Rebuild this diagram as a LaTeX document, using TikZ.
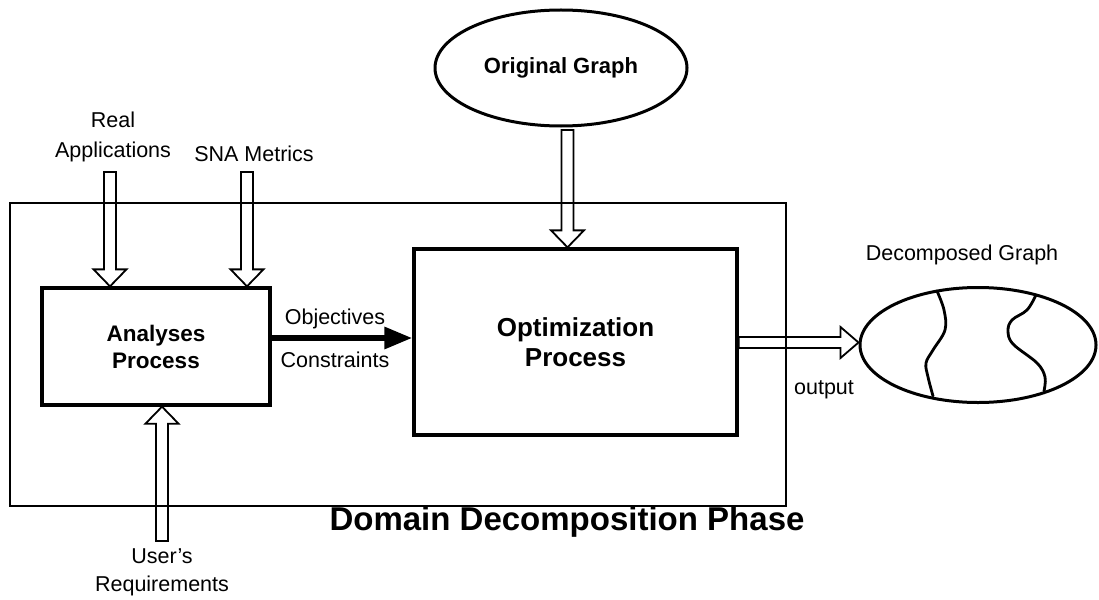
\documentclass[tikz,border=0pt]{standalone}
\usepackage{fontspec}
\setmainfont{Liberation Sans}
\usetikzlibrary{calc,shapes.geometric,arrows.meta}

\tikzset{
  lbl/.style={font=\fontsize{21.5}{30}\selectfont, align=center, inner sep=0pt},
  procbox/.style={draw, line width=3.3pt, align=center, inner sep=0pt},
  graphell/.style={draw, ellipse, line width=3pt, inner sep=0pt},
  hollow/.style={draw, line width=1.8pt, line join=miter},
  frameline/.style={draw, line width=1.3pt, inner sep=0pt},
  cut/.style={line width=2.8pt, line cap=round},
}

% hollow block arrows: shaft from #1 to tip #2
\newcommand\hollowdown[2]{\draw[hollow] ($(#1)+(-6,0)$) -- ($(#2)+(-6,-17)$) -- ($(#2)+(-16.5,-17)$) -- (#2) -- ($(#2)+(16.5,-17)$) -- ($(#2)+(6,-17)$) -- ($(#1)+(6,0)$) -- cycle;}
\newcommand\hollowup[2]{\draw[hollow] ($(#1)+(-6,0)$) -- ($(#2)+(-6,17)$) -- ($(#2)+(-16.5,17)$) -- (#2) -- ($(#2)+(16.5,17)$) -- ($(#2)+(6,17)$) -- ($(#1)+(6,0)$) -- cycle;}
\newcommand\hollowright[2]{\draw[hollow] ($(#1)+(0,-5.5)$) -- ($(#2)+(-18,-5.5)$) -- ($(#2)+(-18,-15.5)$) -- (#2) -- ($(#2)+(-18,15.5)$) -- ($(#2)+(-18,5.5)$) -- ($(#1)+(0,5.5)$) -- cycle;}

\begin{document}
\begin{tikzpicture}[x=1pt, y=-1pt]
\useasboundingbox (0,0) rectangle (1099,599);

% phase frame
\node[frameline, minimum width=776pt, minimum height=303pt] (frame) at (398,354.5) {};
\node[font=\bfseries\fontsize{33}{36}\selectfont, inner sep=0pt] (phase) at (567,522) {Domain Decomposition Phase};

% process boxes
\node[procbox, minimum width=228pt, minimum height=117pt,
      font=\bfseries\fontsize{22.5}{27}\selectfont] (ana) at (156,346.5) {Analyses\\Process};
\node[procbox, minimum width=323pt, minimum height=186pt,
      font=\bfseries\fontsize{26}{30}\selectfont] (opt) at (575.5,342) {Optimization\\Process};

% graphs
\node[graphell, minimum width=252pt, minimum height=116pt,
      font=\bfseries\fontsize{22}{26}\selectfont] (orig) at (561,68) {Original Graph};
\node[graphell, minimum width=236pt, minimum height=115pt] (decomp) at (978,345) {};
\draw[cut] plot[smooth, tension=0.6] coordinates {(937,291) (944,310) (945,330) (933,350) (926,363) (928,377) (933,396)};
\draw[cut] plot[smooth, tension=0.6] coordinates {(1036,295) (1027,310) (1012,320) (1008,331) (1013,344) (1037,363) (1045,377) (1044,391)};

% labels
\node[lbl] (real) at (113,137) {Real\\Applications};
\node[lbl] (sna) at (254,154) {SNA Metrics};
\node[lbl] (objl) at (335,319) {Objectives};
\node[lbl] (conl) at (335,360) {Constraints};
\node[lbl, font=\fontsize{21.5}{28}\selectfont] (user) at (162,572) {User’s\\Requirements};
\node[lbl] (dgl) at (962,255) {Decomposed Graph};
\node[lbl] (outl) at (824,390) {output};

% arrow end points
\coordinate (raTop) at (110,172);
\coordinate (raTip) at (ana.north -| raTop);
\coordinate (snTop) at (247,172);
\coordinate (snTip) at (ana.north -| snTop);
\coordinate (ogTop) at (567.5,130);
\coordinate (ogTip) at (opt.north -| ogTop);
\coordinate (urBot) at (162,541);
\coordinate (urTip) at (ana.south -| urBot);
\coordinate (outMid) at (790,342.5);
\coordinate (outStart) at (opt.east |- outMid);
\coordinate (outTip) at (decomp.west |- outMid);
\coordinate (objMid) at (340,338);

% block arrows
\hollowdown{raTop}{raTip}
\hollowdown{snTop}{snTip}
\hollowdown{ogTop}{ogTip}
\hollowup{urBot}{urTip}
\hollowright{outStart}{outTip}

% objectives / constraints flow
\draw[line width=6pt, -{Triangle[length=28pt, width=21pt]}] (ana.east |- objMid) -- (opt.west |- objMid);
\end{tikzpicture}
\end{document}
